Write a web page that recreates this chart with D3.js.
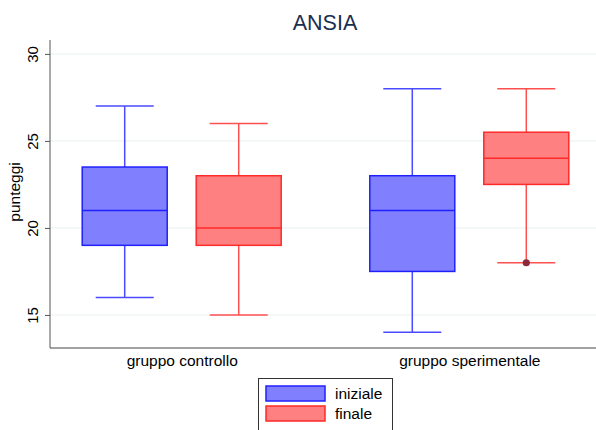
<!DOCTYPE html>
<html>
<head>
<meta charset="utf-8">
<script src="https://cdn.jsdelivr.net/npm/d3@7"></script>
<style>
  body { margin: 0; background: #fff; }
  svg { display: block; font-family: "Liberation Sans", Arial, sans-serif; }
</style>
</head>
<body>
<svg id="chart" width="596" height="430"></svg>
<script>
// Groups and series
const groups = ["gruppo controllo", "gruppo sperimentale"];
const series = ["iniziale", "finale"];
// Five-number summaries per group, per series: [min, q1, median, q3, max]
const iniziale = [[16, 19, 21, 23.5, 27], [14, 17.5, 21, 23, 28]];
const finale = [[15, 19, 20, 23, 26], [18, 22.5, 24, 25.5, 28]];
// Outliers (group index, value)
const outliersFinale = [[1, 18]];
const yTicks = [15, 20, 25, 30];

const fills = { iniziale: "#8080ff", finale: "#ff8080" };
const strokes = { iniziale: "#2020ff", finale: "#ff2a2a" };
const whiskerStrokes = { iniziale: "#4a4aff", finale: "#ff5050" };

const svg = d3.select("#chart");
const plotLeft = 50, plotRight = 601, plotTop = 40, plotBottom = 348;

const y = d3.scaleLinear().domain([13.1, 30.8]).range([plotBottom, plotTop]);
const x = d3.scalePoint().domain(groups).range([plotLeft, plotRight]).padding(0.458);
const xs = d3.scalePoint().domain(series).range([-57, 57]);

// Grid lines
svg.append("g").selectAll("line").data(yTicks).join("line")
  .attr("x1", plotLeft).attr("x2", 596)
  .attr("y1", d => y(d)).attr("y2", d => y(d))
  .attr("stroke", "#eaf0f0").attr("stroke-width", 1);

// Y axis
const yAxis = svg.append("g").attr("transform", `translate(${plotLeft},0)`)
  .call(d3.axisLeft(y).tickValues(yTicks).tickSize(5));
yAxis.select(".domain").attr("stroke", "#555").attr("d", `M0,${plotTop}V${plotBottom}`);
yAxis.selectAll(".tick line").attr("stroke", "#555");
yAxis.selectAll(".tick text")
  .attr("font-size", 15).attr("fill", "#000")
  .attr("text-anchor", "middle")
  .attr("x", null).attr("dy", null)
  .attr("y", 0)
  .attr("transform", "translate(-12,0) rotate(-90)");

// X axis
const xAxis = svg.append("g").attr("transform", `translate(0,${plotBottom})`)
  .call(d3.axisBottom(x).tickSize(0).tickPadding(7));
xAxis.select(".domain").attr("stroke", "#444").attr("d", `M${plotLeft},0H596`);
xAxis.selectAll(".tick text").attr("font-size", 15.5).attr("fill", "#000");

// Boxes
const boxW = 85, capW = 58;
const data = [];
groups.forEach((g, gi) => {
  data.push({ g, s: "iniziale", v: iniziale[gi] });
  data.push({ g, s: "finale", v: finale[gi] });
});

const boxes = svg.append("g").selectAll("g").data(data).join("g")
  .attr("transform", d => `translate(${x(d.g) + xs(d.s)},0)`);

// whiskers
boxes.append("line").attr("x1", 0).attr("x2", 0)
  .attr("y1", d => y(d.v[3])).attr("y2", d => y(d.v[4]))
  .attr("stroke", d => whiskerStrokes[d.s]).attr("stroke-width", 1.5);
boxes.append("line").attr("x1", 0).attr("x2", 0)
  .attr("y1", d => y(d.v[1])).attr("y2", d => y(d.v[0]))
  .attr("stroke", d => whiskerStrokes[d.s]).attr("stroke-width", 1.5);
// caps
boxes.append("line").attr("x1", -capW / 2).attr("x2", capW / 2)
  .attr("y1", d => y(d.v[4])).attr("y2", d => y(d.v[4]))
  .attr("stroke", d => whiskerStrokes[d.s]).attr("stroke-width", 1.5);
boxes.append("line").attr("x1", -capW / 2).attr("x2", capW / 2)
  .attr("y1", d => y(d.v[0])).attr("y2", d => y(d.v[0]))
  .attr("stroke", d => whiskerStrokes[d.s]).attr("stroke-width", 1.5);
// box
boxes.append("rect")
  .attr("x", -boxW / 2).attr("width", boxW)
  .attr("y", d => y(d.v[3])).attr("height", d => y(d.v[1]) - y(d.v[3]))
  .attr("fill", d => fills[d.s]).attr("stroke", d => strokes[d.s]).attr("stroke-width", 1.5);
// median
boxes.append("line").attr("x1", -boxW / 2).attr("x2", boxW / 2)
  .attr("y1", d => y(d.v[2])).attr("y2", d => y(d.v[2]))
  .attr("stroke", d => strokes[d.s]).attr("stroke-width", 1.5);

// outliers
svg.append("g").selectAll("circle").data(outliersFinale).join("circle")
  .attr("cx", d => x(groups[d[0]]) + xs("finale"))
  .attr("cy", d => y(d[1]))
  .attr("r", 3.6).attr("fill", "#8b2a3a");

// Title
svg.append("text").attr("x", 325).attr("y", 30).attr("text-anchor", "middle")
  .attr("font-size", 21.5).attr("fill", "#1a2f50").text("ANSIA");

// Y label
svg.append("text").attr("transform", `translate(20,192) rotate(-90)`)
  .attr("text-anchor", "middle").attr("font-size", 15.5).attr("fill", "#000").text("punteggi");

// Legend
const lg = svg.append("g");
lg.append("rect").attr("x", 258.5).attr("y", 378.5).attr("width", 134).attr("height", 60)
  .attr("fill", "#fff").attr("stroke", "#333").attr("stroke-width", 1);
series.forEach((s, i) => {
  const yy = 386 + i * 20;
  lg.append("rect").attr("x", 266).attr("y", yy).attr("width", 59).attr("height", 15)
    .attr("fill", fills[s]).attr("stroke", strokes[s]).attr("stroke-width", 1.5);
  lg.append("text").attr("x", 335).attr("y", yy + 13).attr("font-size", 15.5)
    .attr("fill", "#000").text(s);
});
</script>
</body>
</html>
